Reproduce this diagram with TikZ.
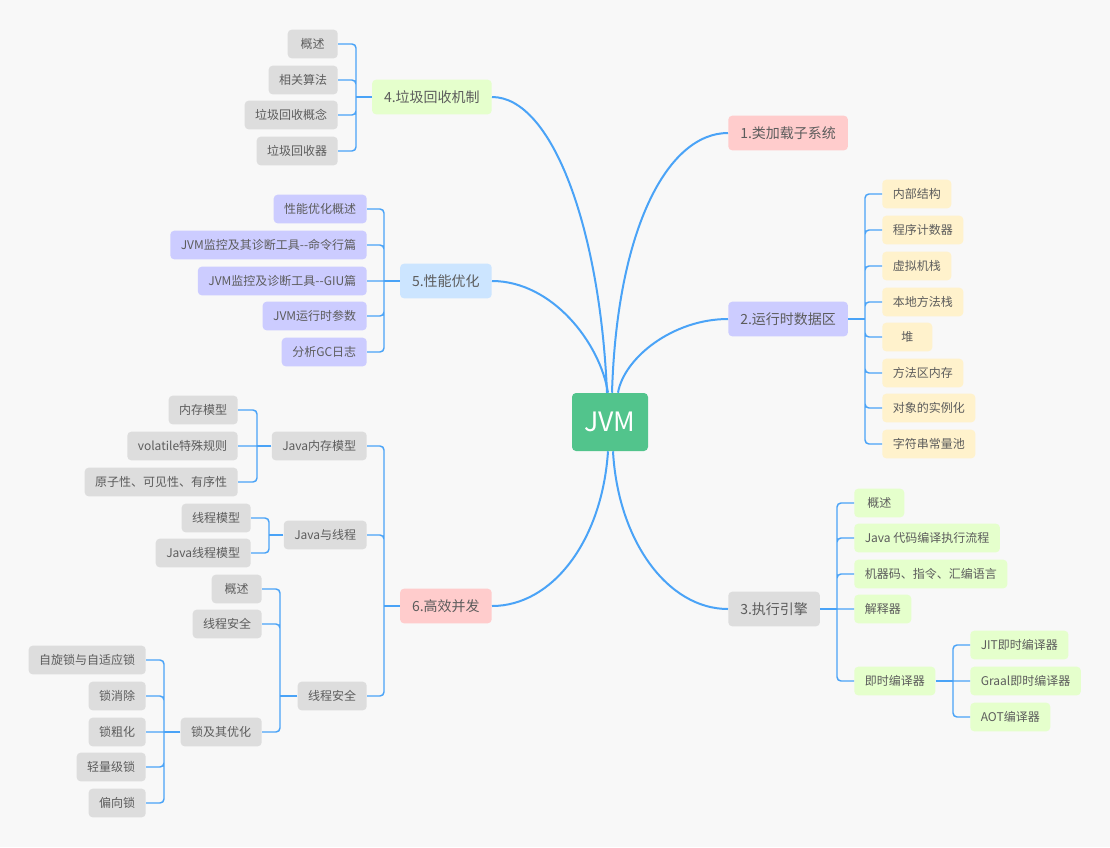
\documentclass[tikz,border=0pt]{standalone}
\usepackage{fontspec}
\setmainfont{Noto Sans CJK SC}
\usetikzlibrary{positioning,calc}
\definecolor{bg}{HTML}{F8F8F8}
\definecolor{wire}{HTML}{4AA3F7}
\definecolor{ink}{HTML}{5C5C5C}
\definecolor{jvmgreen}{HTML}{52C48C}
\definecolor{rose}{HTML}{FFCCCC}
\definecolor{lilac}{HTML}{CCCCFF}
\definecolor{grey}{HTML}{DDDDDD}
\definecolor{lime}{HTML}{E5FFCC}
\definecolor{sky}{HTML}{CCE5FF}
\definecolor{cream}{HTML}{FFF2CC}
\tikzset{
  topic/.style={rounded corners=3pt,text=ink,font=\fontsize{10.5}{12}\selectfont,
    minimum height=26pt,inner xsep=9pt},
  leaf/.style={rounded corners=3pt,text=ink,font=\fontsize{9}{11}\selectfont,
    minimum height=21.5pt,minimum width=37.5pt,inner xsep=7.9pt},
  trunk/.style={draw=wire,line width=1.5pt},
  branch/.style={draw=wire,line width=1.1pt,rounded corners=3pt}
}

\begin{document}
\begin{tikzpicture}[x=0.75pt,y=-0.75pt]
\fill[bg] (0,0) rectangle (1110,847);
\node[fill=jvmgreen,text=white,rounded corners=3pt,minimum width=57pt,minimum height=43.5pt,
  font=\fontsize{20}{24}\selectfont] (jvm) at (610,422) {JVM};
% main topics
\node[topic,fill=lime,anchor=east] (gc) at (492,97) {4.垃圾回收机制};
\node[topic,fill=sky,anchor=east] (perf) at (492,281) {5.性能优化};
\node[topic,fill=rose,anchor=east] (conc) at (492,606) {6.高效并发};
\node[topic,fill=rose,anchor=west] (load) at (728,133) {1.类加载子系统};
\node[topic,fill=lilac,anchor=west] (rt) at (728,319) {2.运行时数据区};
\node[topic,fill=grey,anchor=west] (exec) at (728,609) {3.执行引擎};
\draw[trunk] (gc.east) .. controls +(60,0) and +(-7,-165) .. ([xshift=-2.25pt]jvm.north);
\draw[trunk] (perf.east) .. controls +(60,0) and +(-8,-50) .. ([xshift=-1.5pt]jvm.north);
\draw[trunk] (load.west) .. controls +(-60,0) and +(5,-165) .. ([xshift=1.5pt]jvm.north);
\draw[trunk] (rt.west) .. controls +(-55,0) and +(6,-35) .. ([xshift=6pt]jvm.north);
\draw[trunk] (conc.east) .. controls +(60,0) and +(-6,90) .. ([xshift=-1.5pt]jvm.south);
\draw[trunk] (exec.west) .. controls +(-60,0) and +(5,90) .. ([xshift=2.25pt]jvm.south);
% 4
\node[leaf,fill=grey,anchor=east] (gc1) at (338,44) {概述};
\node[leaf,fill=grey,anchor=east] (gc2) at (338,80) {相关算法};
\node[leaf,fill=grey,anchor=east] (gc3) at (338,115) {垃圾回收概念};
\node[leaf,fill=grey,anchor=east] (gc4) at (338,151) {垃圾回收器};
\coordinate (gcb) at (356,97);
\draw[branch] (gc) -- (gcb);
\draw[branch] (gcb) |- (gc1) (gcb) |- (gc2) (gcb) |- (gc3) (gcb) |- (gc4);
% 5
\node[leaf,fill=lilac,anchor=east] (pf1) at (367,209) {性能优化概述};
\node[leaf,fill=lilac,anchor=east] (pf2) at (367,245) {JVM监控及其诊断工具-{}-命令行篇};
\node[leaf,fill=lilac,anchor=east] (pf3) at (367,281) {JVM监控及诊断工具-{}-GIU篇};
\node[leaf,fill=lilac,anchor=east] (pf4) at (367,316) {JVM运行时参数};
\node[leaf,fill=lilac,anchor=east] (pf5) at (367,352) {分析GC日志};
\coordinate (pfb) at (384,281);
\draw[branch] (perf) -- (pfb);
\draw[branch] (pfb) |- (pf1) (pfb) |- (pf2) (pfb) -- (pf3) (pfb) |- (pf4) (pfb) |- (pf5);
% 6
\node[leaf,fill=grey,anchor=east] (jmm) at (367,446) {Java内存模型};
\node[leaf,fill=grey,anchor=east] (jth) at (367,535) {Java与线程};
\node[leaf,fill=grey,anchor=east] (safe) at (367,696) {线程安全};
\coordinate (ccb) at (384,606);
\draw[branch] (conc) -- (ccb);
\draw[branch] (ccb) |- (jmm) (ccb) |- (jth) (ccb) |- (safe);
\node[leaf,fill=grey,anchor=east] (jm1) at (238,410) {内存模型};
\node[leaf,fill=grey,anchor=east] (jm2) at (238,446) {volatile特殊规则};
\node[leaf,fill=grey,anchor=east] (jm3) at (238,482) {原子性、可见性、有序性};
\coordinate (jmb) at (257,446);
\draw[branch] (jmm) -- (jmb);
\draw[branch] (jmb) |- (jm1) (jmb) -- (jm2) (jmb) |- (jm3);
\node[leaf,fill=grey,anchor=east] (th1) at (251,518) {线程模型};
\node[leaf,fill=grey,anchor=east] (th2) at (251,553) {Java线程模型};
\coordinate (thb) at (269,535);
\draw[branch] (jth) -- (thb);
\draw[branch] (thb) |- (th1) (thb) |- (th2);
\node[leaf,fill=grey,anchor=east] (sf1) at (262,589) {概述};
\node[leaf,fill=grey,anchor=east] (sf2) at (262,624) {线程安全};
\node[leaf,fill=grey,anchor=east] (lock) at (262,732) {锁及其优化};
\coordinate (sfb) at (280,696);
\draw[branch] (safe) -- (sfb);
\draw[branch] (sfb) |- (sf1) (sfb) |- (sf2) (sfb) |- (lock);
\node[leaf,fill=grey,anchor=east] (lk1) at (146,660) {自旋锁与自适应锁};
\node[leaf,fill=grey,anchor=east] (lk2) at (146,696) {锁消除};
\node[leaf,fill=grey,anchor=east] (lk3) at (146,732) {锁粗化};
\node[leaf,fill=grey,anchor=east] (lk4) at (146,767) {轻量级锁};
\node[leaf,fill=grey,anchor=east] (lk5) at (146,803) {偏向锁};
\coordinate (lkb) at (164,732);
\draw[branch] (lock) -- (lkb);
\draw[branch] (lkb) |- (lk1) (lkb) |- (lk2) (lkb) -- (lk3) (lkb) |- (lk4) (lkb) |- (lk5);
% 2
\node[leaf,fill=cream,anchor=west] (rt1) at (882,194) {内部结构};
\node[leaf,fill=cream,anchor=west] (rt2) at (882,230) {程序计数器};
\node[leaf,fill=cream,anchor=west] (rt3) at (882,266) {虚拟机栈};
\node[leaf,fill=cream,anchor=west] (rt4) at (882,302) {本地方法栈};
\node[leaf,fill=cream,anchor=west] (rt5) at (882,337) {堆};
\node[leaf,fill=cream,anchor=west] (rt6) at (882,373) {方法区内存};
\node[leaf,fill=cream,anchor=west] (rt7) at (882,408) {对象的实例化};
\node[leaf,fill=cream,anchor=west] (rt8) at (882,444) {字符串常量池};
\coordinate (rtb) at (865,319);
\draw[branch] (rt) -- (rtb);
\draw[branch] (rtb) |- (rt1) (rtb) |- (rt2) (rtb) |- (rt3) (rtb) |- (rt4)
  (rtb) |- (rt5) (rtb) |- (rt6) (rtb) |- (rt7) (rtb) |- (rt8);
% 3
\node[leaf,fill=lime,anchor=west] (ex1) at (854,503) {概述};
\node[leaf,fill=lime,anchor=west] (ex2) at (854,538) {Java 代码编译执行流程};
\node[leaf,fill=lime,anchor=west] (ex3) at (854,574) {机器码、指令、汇编语言};
\node[leaf,fill=lime,anchor=west] (ex4) at (854,609) {解释器};
\node[leaf,fill=lime,anchor=west] (jit) at (854,681) {即时编译器};
\coordinate (exb) at (837,609);
\draw[branch] (exec) -- (exb);
\draw[branch] (exb) |- (ex1) (exb) |- (ex2) (exb) |- (ex3) (exb) -- (ex4) (exb) |- (jit);
\node[leaf,fill=lime,anchor=west] (jt1) at (970,645) {JIT即时编译器};
\node[leaf,fill=lime,anchor=west] (jt2) at (970,681) {Graal即时编译器};
\node[leaf,fill=lime,anchor=west] (jt3) at (970,717) {AOT编译器};
\coordinate (jtb) at (953,681);
\draw[branch] (jit) -- (jtb);
\draw[branch] (jtb) |- (jt1) (jtb) -- (jt2) (jtb) |- (jt3);
\end{tikzpicture}
\end{document}
